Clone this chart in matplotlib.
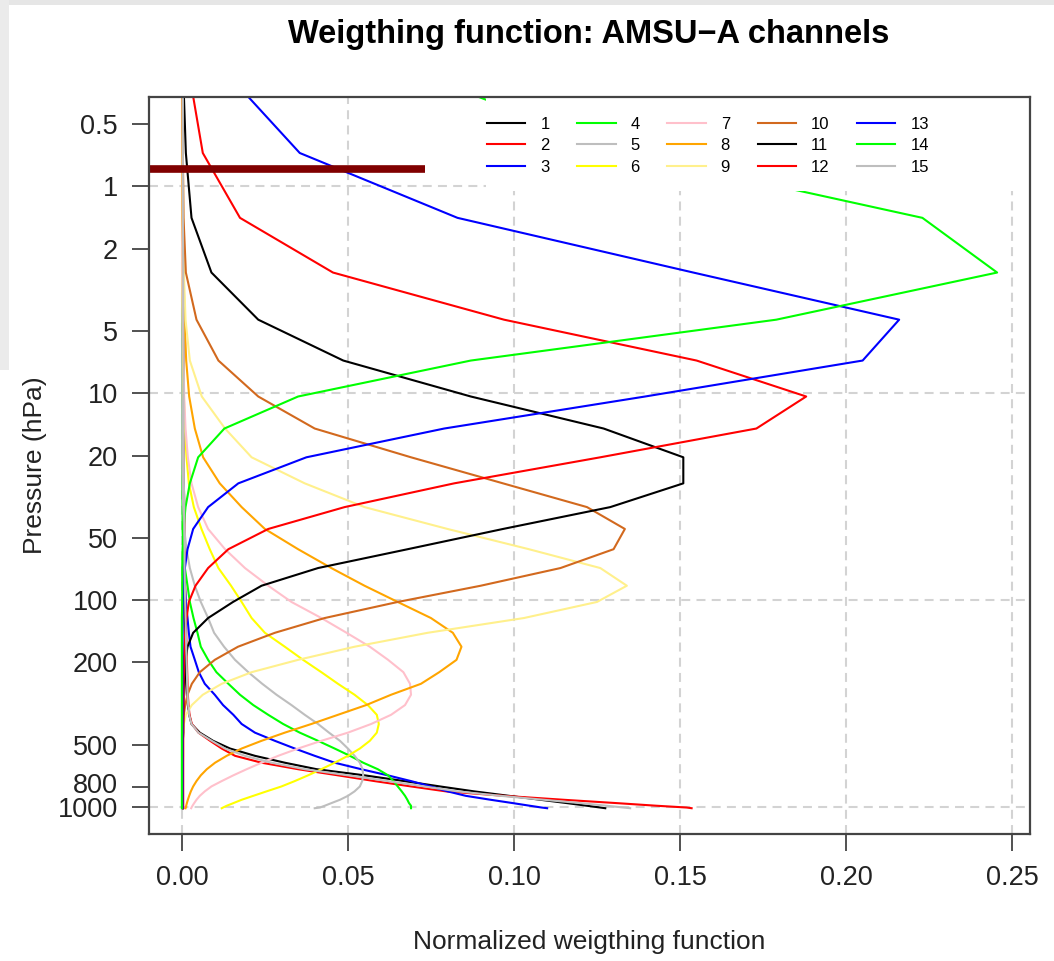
import numpy as np
import matplotlib
matplotlib.use("Agg")
import matplotlib.pyplot as plt
from matplotlib.patches import Rectangle
from matplotlib.transforms import ScaledTranslation

plt.rcParams['font.family'] = ['Liberation Sans', 'DejaVu Sans']

# pressure levels (hPa)
levels = [0.10, 0.29, 0.69, 1.42, 2.61, 4.41, 6.95, 10.37, 14.81, 20.40,
          27.26, 35.51, 45.29, 56.73, 69.97, 85.18, 102.05, 122.04, 143.84, 167.95,
          194.36, 222.94, 253.71, 286.60, 321.50, 358.28, 396.81, 436.95, 478.54, 521.46,
          565.54, 610.60, 656.43, 702.73, 749.12, 795.09, 839.95, 882.80, 922.46, 957.44,
          985.88, 1005.43, 1013.25]

# normalized weighting function per channel, one value per level
ch1 = [0.0003, 0.0003, 0.0003, 0.0003, 0.0004, 0.0004, 0.0005, 0.0005, 0.0005, 0.0006,
       0.0006, 0.0007, 0.0007, 0.0007, 0.0007, 0.0007, 0.0008, 0.0008, 0.0009, 0.0010,
       0.0011, 0.0012, 0.0013, 0.0015, 0.0018, 0.0022, 0.0029, 0.0054, 0.0094, 0.0145,
       0.022, 0.031, 0.0406, 0.055, 0.067, 0.0777, 0.088, 0.0985, 0.108, 0.116,
       0.122, 0.126, 0.1275]
ch2 = [0.0003, 0.0003, 0.0003, 0.0003, 0.0004, 0.0004, 0.0005, 0.0005, 0.0005, 0.0006,
       0.0006, 0.0007, 0.0007, 0.0008, 0.0009, 0.0010, 0.0011, 0.0012, 0.0013, 0.0014,
       0.0015, 0.0016, 0.0017, 0.0018, 0.0020, 0.0023, 0.0030, 0.005, 0.0085, 0.012,
       0.016, 0.024, 0.035, 0.047, 0.058, 0.069, 0.0795, 0.097, 0.115, 0.131,
       0.143, 0.152, 0.1535]
ch3 = [0.0002, 0.0002, 0.0002, 0.0002, 0.0003, 0.0003, 0.0003, 0.0004, 0.0004, 0.0004,
       0.0005, 0.0005, 0.0005, 0.0006, 0.0007, 0.0009, 0.0012, 0.0017, 0.0021, 0.0026,
       0.0039, 0.0051, 0.0069, 0.0099, 0.0124, 0.0155, 0.018, 0.022, 0.028, 0.034,
       0.040, 0.046, 0.054, 0.062, 0.069, 0.075, 0.080, 0.0855, 0.093, 0.0997,
       0.1048, 0.1083, 0.110]
ch4 = [0.0001, 0.0001, 0.0001, 0.0001, 0.0001, 0.0001, 0.0001, 0.0001, 0.0001, 0.0001,
       0.0001, 0.0002, 0.0002, 0.0004, 0.0009, 0.0017, 0.0024, 0.0035, 0.0047, 0.0057,
       0.0079, 0.0104, 0.014, 0.0175, 0.0215, 0.026, 0.0305, 0.0355, 0.041, 0.046,
       0.0506, 0.0546, 0.059, 0.0621, 0.0637, 0.065, 0.0662, 0.0672, 0.0679, 0.0684,
       0.069, 0.069, 0.069]
ch5 = [0.0001, 0.0001, 0.0001, 0.0001, 0.0001, 0.0001, 0.0001, 0.0001, 0.0001, 0.0001,
       0.0002, 0.0004, 0.0007, 0.0014, 0.0024, 0.0039, 0.0057, 0.0079, 0.0097, 0.0127,
       0.016, 0.020, 0.0242, 0.0285, 0.033, 0.037, 0.041, 0.0443, 0.0476, 0.050,
       0.052, 0.0536, 0.0544, 0.0546, 0.0543, 0.0536, 0.052, 0.050, 0.0476, 0.045,
       0.043, 0.0416, 0.040]
ch6 = [0.0001, 0.0001, 0.0001, 0.0001, 0.0001, 0.0003, 0.0004, 0.0006, 0.0009, 0.0014,
       0.0021, 0.0036, 0.0059, 0.0084, 0.011, 0.0148, 0.018, 0.021, 0.025, 0.031,
       0.0365, 0.042, 0.047, 0.052, 0.056, 0.0587, 0.0593, 0.0587, 0.0566, 0.0536,
       0.050, 0.046, 0.042, 0.038, 0.034, 0.030, 0.0255, 0.0215, 0.018, 0.0155,
       0.0135, 0.0124, 0.012]
ch7 = [0.0001, 0.0001, 0.0001, 0.0001, 0.0001, 0.0003, 0.0005, 0.0007, 0.0011, 0.0018,
       0.0029, 0.0049, 0.0079, 0.013, 0.019, 0.026, 0.033, 0.042, 0.0496, 0.0566,
       0.0621, 0.0667, 0.0687, 0.069, 0.0672, 0.063, 0.057, 0.050, 0.042, 0.035,
       0.029, 0.024, 0.0195, 0.0155, 0.012, 0.0089, 0.0069, 0.0054, 0.0044, 0.0037,
       0.0032, 0.0029, 0.0028]
ch8 = [0.0002, 0.0002, 0.0002, 0.0002, 0.0005, 0.0008, 0.0013, 0.0022, 0.0039, 0.0064,
       0.0114, 0.018, 0.025, 0.035, 0.045, 0.055, 0.065, 0.075, 0.0816, 0.0842,
       0.0827, 0.0775, 0.072, 0.063, 0.0555, 0.047, 0.039, 0.031, 0.024, 0.018,
       0.0135, 0.0100, 0.0075, 0.0057, 0.0044, 0.0034, 0.0027, 0.0022, 0.0018, 0.0015,
       0.0013, 0.0012, 0.0011]
ch9 = [0.0003, 0.0003, 0.0003, 0.0004, 0.0006, 0.0011, 0.0024, 0.006, 0.013, 0.021,
       0.037, 0.055, 0.080, 0.1045, 0.126, 0.134, 0.125, 0.103, 0.074, 0.052,
       0.035, 0.021, 0.012, 0.0063, 0.003, 0.0012, 0.0006, 0.0004, 0.0004, 0.0004,
       0.0004, 0.0003, 0.0003, 0.0003, 0.0003, 0.0003, 0.0003, 0.0003, 0.0003, 0.0003,
       0.0003, 0.0003, 0.0003]
ch10 = [0.0002, 0.0002, 0.0003, 0.0005, 0.0012, 0.0044, 0.011, 0.023, 0.040, 0.069,
        0.0967, 0.122, 0.1334, 0.130, 0.114, 0.090, 0.065, 0.043, 0.028, 0.0169,
        0.0099, 0.0054, 0.003, 0.0017, 0.001, 0.0006, 0.0004, 0.0004, 0.0003, 0.0003,
        0.0003, 0.0003, 0.0003, 0.0003, 0.0003, 0.0003, 0.0003, 0.0003, 0.0003, 0.0003,
        0.0003, 0.0003, 0.0003]
ch11 = [0.0003, 0.0004, 0.0012, 0.0029, 0.0089, 0.023, 0.0486, 0.087, 0.127, 0.151,
        0.151, 0.129, 0.0967, 0.068, 0.041, 0.024, 0.0154, 0.0079, 0.0034, 0.0017,
        0.0011, 0.0008, 0.0006, 0.0005, 0.0005, 0.0004, 0.0004, 0.0004, 0.0003, 0.0003,
        0.0003, 0.0003, 0.0003, 0.0003, 0.0003, 0.0003, 0.0003, 0.0003, 0.0003, 0.0003,
        0.0003, 0.0003, 0.0003]
ch12 = [0.001, 0.0023, 0.0063, 0.0175, 0.0455, 0.097, 0.155, 0.188, 0.173, 0.126,
        0.082, 0.049, 0.026, 0.014, 0.0079, 0.0041, 0.0021, 0.0014, 0.0010, 0.0008,
        0.0006, 0.0006, 0.0005, 0.0005, 0.0005, 0.0004, 0.0004, 0.0004, 0.0004, 0.0004,
        0.0004, 0.0004, 0.0004, 0.0004, 0.0004, 0.0004, 0.0004, 0.0004, 0.0004, 0.0004,
        0.0004, 0.0004, 0.0004]
ch13 = [0.005, 0.014, 0.0355, 0.083, 0.154, 0.216, 0.205, 0.1395, 0.079, 0.0375,
        0.017, 0.0079, 0.0034, 0.0017, 0.0009, 0.0005, 0.0003, 0.0002, 0.0002, 0.0002,
        0.0002, 0.0002, 0.0002, 0.0002, 0.0002, 0.0002, 0.0002, 0.0002, 0.0002, 0.0002,
        0.0002, 0.0002, 0.0002, 0.0002, 0.0002, 0.0002, 0.0002, 0.0002, 0.0002, 0.0002,
        0.0002, 0.0002, 0.0002]
ch14 = [0.035, 0.072, 0.134, 0.223, 0.2455, 0.179, 0.087, 0.035, 0.0128, 0.0049,
        0.0024, 0.0011, 0.0005, 0.0002, 0.0001, 0.0001, 0.0001, 0.0, 0.0, 0.0,
        0.0, 0.0, 0.0, 0.0, 0.0, 0.0, 0.0, 0.0, 0.0, 0.0,
        0.0, 0.0, 0.0, 0.0, 0.0, 0.0, 0.0, 0.0, 0.0, 0.0,
        0.0, 0.0, 0.0]
ch15 = [0.0003, 0.0003, 0.0003, 0.0003, 0.0004, 0.0004, 0.0005, 0.0005, 0.0005, 0.0006,
        0.0006, 0.0007, 0.0007, 0.0008, 0.0008, 0.0009, 0.0010, 0.0011, 0.0012, 0.0013,
        0.0014, 0.0015, 0.0016, 0.0017, 0.0019, 0.0022, 0.0029, 0.005, 0.009, 0.013,
        0.019, 0.027, 0.037, 0.050, 0.062, 0.073, 0.083, 0.096, 0.109, 0.120,
        0.128, 0.133, 0.135]

channels = [ch1, ch2, ch3, ch4, ch5, ch6, ch7, ch8, ch9, ch10, ch11, ch12, ch13, ch14, ch15]
channel_names = [str(i) for i in range(1, 16)]
colors = ['black', 'red', 'blue', '#00ff00', '#bebebe', '#ffff00', '#ffc0cb', '#ffa500',
          '#fff08c', '#d2691e', 'black', 'red', 'blue', '#00ff00', '#bebebe']

xticks = [0.0, 0.05, 0.10, 0.15, 0.20, 0.25]
yticks = [0.5, 1, 2, 5, 10, 20, 50, 100, 200, 500, 800, 1000]
ygrid = [1, 10, 100, 1000]

# marker bar (pressure, x extent)
bar_p = 0.828
bar_x = [-0.0099, 0.0732]

fig = plt.figure(figsize=(10.54, 9.61), dpi=100)
fig.patch.set_facecolor('white')
# light gray slide frame at top / left
fig.patches.append(Rectangle((0, 1 - 5 / 961), 1, 5 / 961, transform=fig.transFigure,
                             facecolor='#e6e6e6', edgecolor='none', zorder=0))
fig.patches.append(Rectangle((0, 1 - 370 / 961), 9 / 1054, 370 / 961, transform=fig.transFigure,
                             facecolor='#ebebeb', edgecolor='none', zorder=0))

ax = fig.add_axes([149 / 1054, 1 - 834 / 961, 881 / 1054, 737 / 961])

for xv in xticks:
    ax.axvline(xv, color='#d3d3d3', lw=1.5, linestyle=(0, (4.3, 3)), zorder=1)
for yv in ygrid:
    ax.axhline(yv, color='#d3d3d3', lw=1.5, linestyle=(0, (4.3, 3)), zorder=1)

for vals, name, col in zip(channels, channel_names, colors):
    ax.plot(vals, levels, color=col, lw=1.5, label=name, zorder=2)

ax.plot(bar_x, [bar_p, bar_p], color='#800000', lw=5.5, solid_capstyle='butt', zorder=2.5)

ax.set_yscale('log')
ax.set_ylim(1350, 0.37)
ax.set_xlim(-0.0099, 0.2554)
ax.set_yticks(yticks)
ax.set_yticklabels([str(v) for v in yticks])
ax.minorticks_off()
ax.set_xticks(xticks)
ax.set_xticklabels(['%.2f' % v for v in xticks])
ax.tick_params(axis='both', direction='out', length=12.5, width=1.2, pad=10,
               labelsize=19.5, color='#333333', labelcolor='#222222')
# the 800 label sits a little higher so it does not run into 1000
for lab, v in zip(ax.get_yticklabels(), yticks):
    if v == 800:
        lab.set_transform(lab.get_transform() + ScaledTranslation(0, 3 / 72, fig.dpi_scale_trans))
for sp in ax.spines.values():
    sp.set_color('#444444')
    sp.set_linewidth(1.6)
    sp.set_zorder(5)

# white box behind the legend
ax.add_patch(Rectangle((0.3825, 0.8725), 1 - 0.3825, 0.1275, transform=ax.transAxes,
                       facecolor='white', edgecolor='none', zorder=3))
leg = ax.legend(ncol=5, loc='upper left', bbox_to_anchor=(0.3837, 0.9729), frameon=False,
                fontsize=12, handlelength=2.3, handletextpad=0.9, columnspacing=1.65,
                labelspacing=0.38, borderpad=0, borderaxespad=0)
leg.set_zorder(4)

fig.text(589 / 1054, 1 - 34 / 961, 'Weigthing function: AMSU\u2212A channels',
         ha='center', va='center', fontsize=23.5, fontweight='bold')
fig.text(589 / 1054, 1 - 942 / 961, 'Normalized weigthing function',
         ha='center', va='center', fontsize=19, color='#222222')
fig.text(35 / 1054, 1 - 465 / 961, 'Pressure (hPa)', rotation=90,
         ha='center', va='center', fontsize=19, color='#222222')

fig.savefig('out.png', dpi=100)
